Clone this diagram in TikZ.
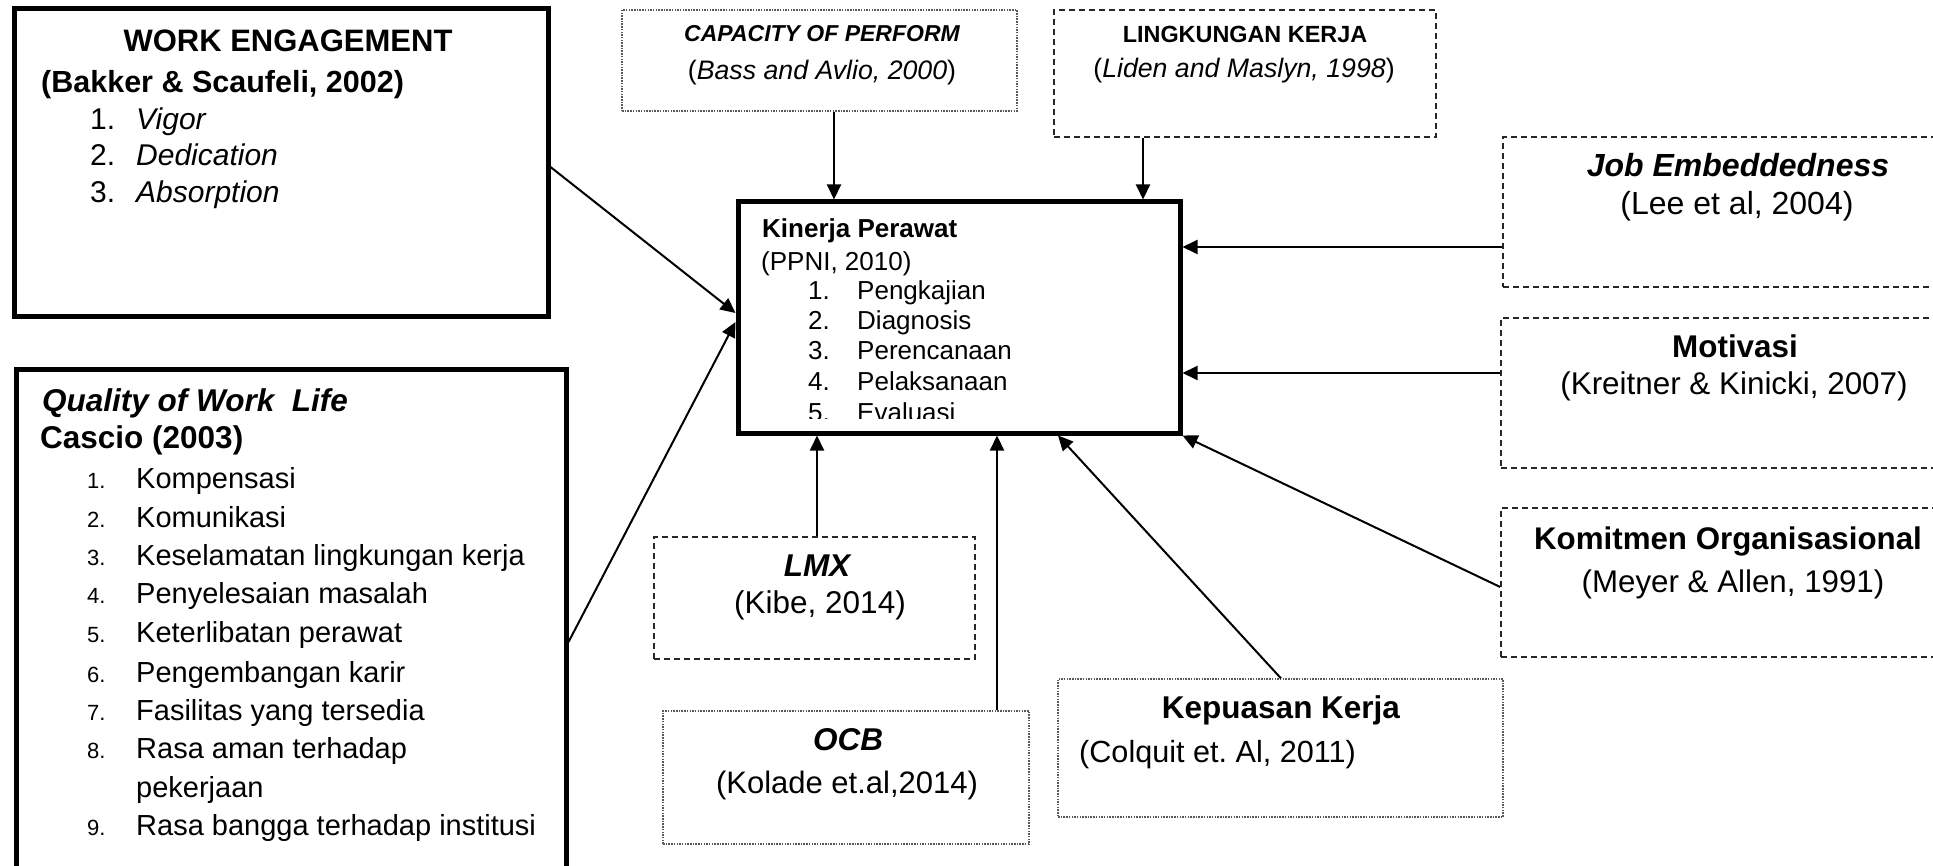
\documentclass[tikz,border=0pt]{standalone}
\usepackage{fontspec}
\setmainfont{Liberation Sans}
\usetikzlibrary{arrows.meta,calc}
\newcommand\fsz[1]{\fontsize{#1}{#1}\selectfont}
\frenchspacing
\begin{document}
\begin{tikzpicture}[x=1pt,y=-1pt,
  thickbox/.style={draw=black, line width=5pt, fill=white, inner sep=0pt},
  dashbox/.style={draw=black!85, line width=1.6pt, dash pattern=on 6pt off 4pt, fill=white, inner sep=0pt},
  dotbox/.style={draw=black!65, line width=1.2pt, dash pattern=on 1.5pt off 1.2pt, fill=white, inner sep=0pt},
  conn/.style={line width=2pt, -{Triangle[length=15pt,width=14pt]}},
  ctxt/.style={inner sep=0pt, anchor=base},
  ltxt/.style={inner sep=0pt, anchor=base west}]
\useasboundingbox (0,0) rectangle (1933,866);
\clip (0,0) rectangle (1933,866);
\fill[white] (0,0) rectangle (1933,866);

% boxes
\node[thickbox, minimum width=534pt, minimum height=308pt] (we) at (281,163) {};
\node[thickbox, minimum width=550pt, minimum height=530pt] (qwl) at (291,635) {};
\node[thickbox, minimum width=442pt, minimum height=231pt] (kin) at (959,317.5) {};
\node[dotbox, minimum width=395pt, minimum height=101pt] (cap) at (819.5,60.5) {};
\node[dashbox, minimum width=382pt, minimum height=127pt] (ling) at (1245,73.5) {};
\node[dashbox, minimum width=457pt, minimum height=150pt] (je) at (1731.5,212) {};
\node[dashbox, minimum width=459pt, minimum height=150pt] (mot) at (1730.5,393) {};
\node[dashbox, minimum width=459pt, minimum height=149pt] (kom) at (1730.5,582.5) {};
\node[dashbox, minimum width=321pt, minimum height=122pt] (lmx) at (814.5,598) {};
\node[dotbox, minimum width=366pt, minimum height=133pt] (ocb) at (846,777.5) {};
\node[dotbox, minimum width=445pt, minimum height=138pt] (kep) at (1280.5,748) {};

% connectors
\draw[conn] (we.east |- 0,167) -- (kin.west |- 0,313);
\draw[conn] (qwl.east |- 0,642) -- (kin.west |- 0,322);
\draw[conn] (cap.south -| 834,0) -- (kin.north -| 834,0);
\draw[conn] (ling.south -| 1143,0) -- (kin.north -| 1143,0);
\draw[conn] (je.west |- 0,247) -- (kin.east |- 0,247);
\draw[conn] (mot.west |- 0,373) -- (kin.east |- 0,373);
\draw[conn] (kom.west |- 0,587) -- (kin.south east);
\draw[conn] (kep.north -| 1281,0) -- (kin.south -| 1058,0);
\draw[conn] (ocb.north -| 997,0) -- (kin.south -| 997,0);
\draw[conn] (lmx.north -| 817,0) -- (kin.south -| 817,0);

% WORK ENGAGEMENT
\node[ctxt, font=\fsz{31}\bfseries] (weT) at (288,52) {WORK ENGAGEMENT};
\node[ltxt, font=\fsz{30.5}\bfseries] (weS) at (41,93) {(Bakker \& Scaufeli, 2002)};
\foreach \n/\t/\y in {1/Vigor/130, 2/Dedication/166, 3/Absorption/203}{
  \node[ltxt, font=\fsz{30}] (wen\n) at (90,\y) {\n.};
  \node[ltxt, font=\fsz{30}\itshape] (wet\n) at (136,\y) {\t};
}

% QUALITY OF WORK LIFE
\node[ltxt, font=\fsz{31.5}\bfseries\itshape] (qT) at (42,412) {Quality of Work~~Life};
\node[ltxt, font=\fsz{31.5}\bfseries] (qS) at (40,448) {Cascio (2003)};
\foreach \n/\t/\y in {1/Kompensasi/488, 2/Komunikasi/527, 3/Keselamatan lingkungan kerja/565, 4/Penyelesaian masalah/603, 5/Keterlibatan perawat/642, 6/Pengembangan karir/682, 7/Fasilitas yang tersedia/720, 8/Rasa aman terhadap/758, 9/Rasa bangga terhadap institusi/835}{
  \node[ltxt, font=\fsz{22}] (qn\n) at (87,\y) {\n.};
  \node[ltxt, font=\fsz{29}] (qt\n) at (136,\y) {\t};
}
\node[ltxt, font=\fsz{29}] (qt8b) at (136,797) {pekerjaan};

% KINERJA
\begin{scope}
\clip (741,205) rectangle (1177,418);
\node[ltxt, font=\fsz{26}\bfseries] (kT) at (762,238) {Kinerja Perawat};
\node[ltxt, font=\fsz{26}] (kS) at (761,271) {(PPNI, 2010)};
\foreach \n/\t/\y in {1/Pengkajian/300, 2/Diagnosis/330, 3/Perencanaan/360, 4/Pelaksanaan/391, 5/Evaluasi/421}{
  \node[ltxt, font=\fsz{26}] (kn\n) at (808,\y) {\n.};
  \node[ltxt, font=\fsz{26}] (kt\n) at (857,\y) {\t};
}
\end{scope}

% top boxes
\node[ctxt, font=\fsz{23}\bfseries\itshape] (capT) at (822,42) {CAPACITY OF PERFORM};
\node[ctxt, font=\fsz{26.7}] (capS) at (822,80) {(\textit{Bass and Avlio, 2000})};
\node[ctxt, font=\fsz{23.4}\bfseries] (lingT) at (1245,43) {LINGKUNGAN KERJA};
\node[ctxt, font=\fsz{26.7}] (lingS) at (1244,78) {(\textit{Liden and Maslyn, 1998})};

% right boxes
\node[ctxt, font=\fsz{32}\bfseries\itshape] (jeT) at (1738,177) {Job Embeddedness};
\node[ctxt, font=\fsz{32}] (jeS) at (1737,215) {(Lee et al, 2004)};
\node[ctxt, font=\fsz{31.4}\bfseries] (motT) at (1735,358) {Motivasi};
\node[ctxt, font=\fsz{31.4}] (motS) at (1734,395) {(Kreitner \& Kinicki, 2007)};
\node[ctxt, font=\fsz{31.3}\bfseries] (komT) at (1728,549) {Komitmen Organisasional};
\node[ctxt, font=\fsz{31.3}] (komS) at (1733,592) {(Meyer \& Allen, 1991)};

% bottom boxes
\node[ctxt, font=\fsz{31.5}\bfseries\itshape] (lmxT) at (817,576) {LMX};
\node[ctxt, font=\fsz{31.5}] (lmxS) at (820,613) {(Kibe, 2014)};
\node[ctxt, font=\fsz{31.5}\bfseries\itshape] (ocbT) at (848,750) {OCB};
\node[ctxt, font=\fsz{31}] (ocbS) at (847,793) {(Kolade et.al,2014)};
\node[ctxt, font=\fsz{31.5}\bfseries] (kepT) at (1281,718) {Kepuasan Kerja};
\node[ltxt, font=\fsz{30.6}] (kepS) at (1079,762) {(Colquit et. Al, 2011)};
\end{tikzpicture}
\end{document}
